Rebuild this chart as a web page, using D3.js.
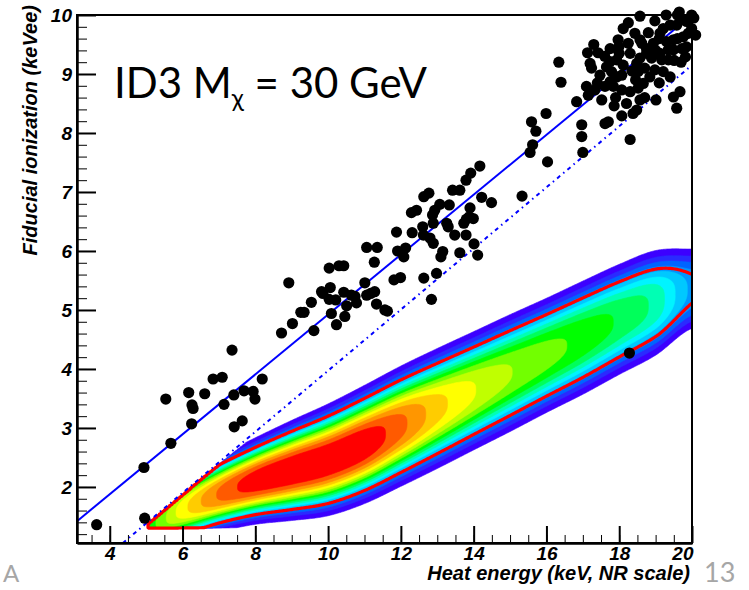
<!DOCTYPE html>
<html>
<head>
<meta charset="utf-8">
<script src="https://cdn.jsdelivr.net/npm/d3@7"></script>
<style>
  body { margin: 0; background: #fff; }
  svg { display: block; }
  .axis text { font-family: "Liberation Sans", Arial, sans-serif; font-weight: bold; font-style: italic; font-size: 19px; fill: #000; }
  .axis path, .axis line { stroke: #000; }
</style>
</head>
<body>
<script>
(function () {
  var svg, width, height, x, y, plot, values, contours, path, nx, ny, e0, q0, dE, dQ;

  width = 749;
  height = 590;

  // axis ranges and ticks
  var xRange = [3.1, 20];
  var yRange = [1.05, 10];
  var xMajor = [4, 6, 8, 10, 12, 14, 16, 18, 20];
  var yMajor = [2, 3, 4, 5, 6, 7, 8, 9, 10];

  // lines (endpoints)
  var solidE = [3.1, 20];
  var solidI = [1.42, 10.0];
  var dashE = [4.36, 20];
  var dashI = [1.05, 9.15];

  // signal band
  var bandE = [5, 6, 7, 8, 9, 10, 11, 12, 13, 14, 15, 16, 17, 18, 19, 20];
  var bandCenter = [1.33, 1.62, 1.88, 2.1, 2.28, 2.46, 2.72, 3.03, 3.33, 3.63, 3.93, 4.23, 4.53, 4.84, 5.12, 5.36];
  var bandPeak = [0.55, 0.74, 0.89, 0.975, 1.0, 1.0, 0.985, 0.9, 0.79, 0.71, 0.65, 0.61, 0.57, 0.52, 0.45, 0.28];
  var bandWidth = [0.35, 0.42, 0.46, 0.52, 0.6, 0.67, 0.71, 0.73, 0.74, 0.74, 0.74, 0.73, 0.73, 0.72, 0.7, 0.58];
  var heatCut = 5.05;
  var ionCut = 1.31;
  var levels = d3.range(1, 17).map(function (k) { return k / 17; });
  var redLevel = 0.26;

  // events
  var evE = [3.64, 4.96, 4.94, 5.68, 5.54, 6.25, 6.26, 6.29, 6.17, 6.61, 6.84, 7.09, 7.36, 7.14, 7.41, 7.69, 7.94, 7.99, 8.19, 7.42,
    7.64, 8.72, 8.92, 9.02, 9.25, 9.34, 9.54, 9.61, 9.82, 9.86, 10.06, 10.03, 10.21, 10.09, 10.23, 10.46, 10.03, 10.30, 10.43, 10.43,
    10.51, 10.64, 10.74, 10.78, 11.01, 11.06, 11.17, 11.28, 11.06, 11.35, 11.27, 11.33, 11.56, 11.63, 11.81, 11.99, 11.88, 11.91, 12.13, 12.08,
    12.31, 12.29, 12.43, 12.63, 12.77, 12.60, 12.62, 12.63, 12.84, 12.87, 12.93, 13.07, 12.89, 12.80, 12.89, 12.98, 13.10, 13.15, 13.33, 13.26,
    13.30, 13.42, 13.62, 13.48, 13.62, 13.73, 13.80, 13.88, 13.99, 13.90, 13.79, 13.79, 13.92, 14.17, 14.01, 14.11, 14.22, 14.49, 15.33, 16.03,
    15.59, 15.71, 15.62, 15.55, 16.97, 16.97, 17.00, 15.99, 16.34, 16.40, 18.28, 18.30, 19.01, 19.49, 19.67, 19.58, 19.82, 19.51, 16.83, 17.70,
    17.61, 18.07, 18.38, 18.48, 18.57, 17.86, 17.52, 18.57, 18.98, 19.29, 19.60, 19.99, 19.85, 20.1, 18.25, 18.11, 18.43, 18.57, 17.13, 17.42,
    17.20, 17.24, 17.10, 17.15, 17.33, 17.75, 17.97, 17.99, 18.25, 18.62, 18.75, 18.94, 19.12, 19.21, 19.40, 19.58, 19.76, 19.49, 19.35, 19.12,
    18.89, 18.75, 18.57, 18.48, 18.11, 17.93, 17.75, 17.65, 17.79, 17.93, 17.75, 17.61, 17.84, 18.07, 18.30, 18.52, 18.66, 18.84, 18.98, 19.21,
    19.40, 19.17, 19.35, 19.49, 19.72, 19.85, 19.76, 19.90, 19.99, 18.52, 18.07, 17.47,
    17.30, 17.60, 18.00, 18.30, 18.35, 18.70, 19.00, 19.10, 18.80, 19.30, 19.60, 19.70, 17.40, 17.90, 18.20, 18.70, 19.10, 18.45, 19.65, 20.05];
  var evI = [1.36, 1.47, 2.33, 2.74, 3.49, 3.07, 3.39, 3.33, 3.60, 3.58, 3.83, 3.86, 4.32, 3.40, 3.56, 3.63, 3.62, 3.49, 3.83, 3.02,
    3.12, 4.61, 5.46, 4.77, 4.96, 4.96, 5.13, 4.65, 5.31, 5.28, 5.38, 5.18, 5.17, 4.94, 4.75, 4.89, 5.71, 5.75, 5.75, 5.30,
    5.07, 5.25, 5.23, 5.12, 5.46, 5.25, 5.28, 5.31, 6.06, 6.06, 5.81, 5.10, 5.00, 4.98, 5.51, 5.55, 6.32, 6.00, 6.05, 5.90,
    6.31, 6.65, 6.69, 6.92, 6.98, 6.41, 6.27, 5.54, 5.18, 6.61, 6.69, 6.79, 6.47, 6.22, 6.13, 5.62, 5.90, 5.99, 6.78, 6.47,
    6.41, 7.03, 7.03, 6.27, 5.97, 6.47, 6.54, 6.58, 6.55, 6.73, 6.27, 7.20, 7.32, 7.44, 6.12, 5.93, 6.91, 6.82, 6.93, 7.51,
    8.19, 8.03, 7.80, 7.67, 8.14, 7.94, 7.67, 8.33, 9.20, 8.86, 4.27, 7.89, 8.56, 8.61, 8.70, 8.42, 9.29, 9.23, 8.53, 8.19,
    8.16, 8.29, 8.33, 8.39, 8.56, 8.46, 8.56, 9.98, 9.90, 10.0, 10.0, 10.0, 9.89, 9.66, 9.87, 9.77, 9.69, 9.58, 9.36, 9.36,
    9.18, 9.10, 8.79, 8.64, 8.73, 9.43, 9.58, 9.46, 9.52, 9.52, 9.43, 9.52, 9.69, 9.77, 9.83, 9.83, 9.92, 9.58, 9.41, 9.35,
    9.27, 9.35, 9.27, 9.18, 9.15, 9.24, 9.21, 9.12, 9.04, 8.95, 8.87, 8.79, 8.79, 8.73, 8.70, 8.76, 8.84, 8.95, 9.07, 9.04,
    8.95, 9.24, 9.24, 9.41, 9.43, 9.46, 9.63, 9.69, 9.77, 9.04, 8.98, 8.98,
    9.50, 9.30, 9.35, 9.35, 9.05, 9.10, 9.40, 9.60, 9.70, 9.55, 9.60, 9.20, 8.85, 8.60, 8.50, 8.60, 8.85, 8.90, 10.05, 9.95];

  var palette = ['#3c00ff', '#2a2aff', '#0064ff', '#0096ff', '#00c8ff', '#00f4ff', '#00ffb4', '#00ff5a',
    '#00ff00', '#72ff00', '#c0ff00', '#ffff00', '#ffcc00', '#ff9600', '#ff5a00', '#ff0000'];

  x = d3.scaleLinear().domain(xRange).range([77, 692]);
  y = d3.scaleLinear().domain(yRange).range([543, 15]);

  svg = d3.select('body')
    .append('svg')
    .attr('width', width)
    .attr('height', height);

  svg.append('clipPath')
    .attr('id', 'frame')
    .append('rect')
    .attr('x', x(xRange[0]))
    .attr('y', y(yRange[1]))
    .attr('width', x(xRange[1]) - x(xRange[0]))
    .attr('height', y(yRange[0]) - y(yRange[1]));

  // smooth (Catmull-Rom) reading of the band arrays at energy e
  function smooth(arr, e) {
    var t = Math.max(0, Math.min(bandE.length - 1.0001, e - bandE[0]));
    var k = Math.floor(t), f = t - k;
    var p0 = arr[Math.max(k - 1, 0)], p1 = arr[k], p2 = arr[k + 1], p3 = arr[Math.min(k + 2, arr.length - 1)];
    return 0.5 * ((2 * p1) + (-p0 + p2) * f + (2 * p0 - 5 * p1 + 4 * p2 - p3) * f * f + (-p0 + 3 * p1 - 3 * p2 + p3) * f * f * f);
  }

  var dashLine = d3.scaleLinear().domain(dashE).range(dashI);

  function density(e, q) {
    if (e < heatCut || q < ionCut || q > dashLine(e) - 0.04) {
      return 0;
    }
    var d = Math.abs(q - smooth(bandCenter, e)) / smooth(bandWidth, e);
    return smooth(bandPeak, e) * Math.exp(-d * d * d);
  }

  e0 = 5.0; dE = 0.035;
  q0 = 1.25; dQ = 0.012;
  nx = Math.round((20 - e0) / dE) + 1;
  ny = Math.round((6.4 - q0) / dQ) + 1;
  values = new Array(nx * ny);
  for (var j = 0; j < ny; j++) {
    for (var i = 0; i < nx; i++) {
      values[j * nx + i] = density(e0 + i * dE, q0 + j * dQ);
    }
  }

  path = d3.geoPath(d3.geoTransform({
    point: function (u, v) {
      this.stream.point(x(e0 + (u - 0.5) * dE), y(q0 + (v - 0.5) * dQ));
    }
  }));

  plot = svg.append('g').attr('clip-path', 'url(#frame)');

  contours = d3.contours().size([nx, ny]).thresholds(levels)(values);
  plot.append('g')
    .selectAll('path')
    .data(contours)
    .enter()
    .append('path')
    .attr('d', path)
    .attr('fill', function (d, k) { return palette[k]; })
    .attr('stroke', function (d, k) { return palette[k]; })
    .attr('stroke-width', 0.6);

  plot.append('g')
    .selectAll('path')
    .data(d3.contours().size([nx, ny]).thresholds([redLevel])(values))
    .enter()
    .append('path')
    .attr('d', path)
    .attr('fill', 'none')
    .attr('stroke', '#ff0000')
    .attr('stroke-width', 3.2)
    .attr('stroke-linejoin', 'round');

  // reference lines
  var line = d3.line()
    .x(function (d) { return x(d[0]); })
    .y(function (d) { return y(d[1]); });

  plot.append('path')
    .attr('d', line(d3.zip(solidE, solidI)))
    .attr('fill', 'none')
    .attr('stroke', '#0000ff')
    .attr('stroke-width', 2);

  plot.append('path')
    .attr('d', line(d3.zip(dashE, dashI)))
    .attr('fill', 'none')
    .attr('stroke', '#0000ff')
    .attr('stroke-width', 2)
    .attr('stroke-dasharray', '4,4,1.5,4');

  // events
  svg.append('g')
    .selectAll('circle')
    .data(d3.zip(evE, evI))
    .enter()
    .append('circle')
    .attr('cx', function (d) { return x(d[0]); })
    .attr('cy', function (d) { return y(d[1]); })
    .attr('r', 5.6)
    .attr('fill', '#000');

  // frame
  svg.append('rect')
    .attr('x', x(xRange[0]))
    .attr('y', y(yRange[1]))
    .attr('width', x(xRange[1]) - x(xRange[0]))
    .attr('height', y(yRange[0]) - y(yRange[1]))
    .attr('fill', 'none')
    .attr('stroke', '#000')
    .attr('stroke-width', 2);

  // axes
  var xMinor = d3.range(3.5, 20.01, 0.5);
  var yMinor = d3.range(1.2, 10.01, 0.2);

  svg.append('g')
    .attr('class', 'axis')
    .attr('transform', 'translate(0,' + y(yRange[0]) + ')')
    .call(d3.axisBottom(x).tickValues(xMinor).tickSize(-8).tickFormat(''))
    .call(function (g) { g.select('.domain').remove(); });

  var xa = svg.append('g')
    .attr('class', 'axis')
    .attr('transform', 'translate(0,' + y(yRange[0]) + ')')
    .call(d3.axisBottom(x).tickValues(xMajor).tickSizeInner(-17).tickSizeOuter(0).tickPadding(3).tickFormat(d3.format('d')));
  xa.select('.domain').attr('stroke-width', 2.5);
  xa.selectAll('line').attr('stroke-width', 2);
  xa.selectAll('text').filter(function (d) { return d === 20; })
    .attr('text-anchor', 'end')
    .attr('x', 1);

  svg.append('g')
    .attr('class', 'axis')
    .attr('transform', 'translate(' + x(xRange[0]) + ',0)')
    .call(d3.axisLeft(y).tickValues(yMinor).tickSize(-10).tickFormat(''))
    .call(function (g) { g.select('.domain').remove(); });

  var ya = svg.append('g')
    .attr('class', 'axis')
    .attr('transform', 'translate(' + x(xRange[0]) + ',0)')
    .call(d3.axisLeft(y).tickValues(yMajor).tickSizeInner(-19).tickSizeOuter(0).tickPadding(5).tickFormat(d3.format('d')));
  ya.select('.domain').attr('stroke-width', 2.5);
  ya.selectAll('line').attr('stroke-width', 2);

  // axis titles
  svg.append('text')
    .attr('x', 690)
    .attr('y', 580)
    .attr('text-anchor', 'end')
    .style('font-family', '"Liberation Sans", Arial, sans-serif')
    .style('font-weight', 'bold')
    .style('font-style', 'italic')
    .style('font-size', '20px')
    .text('Heat energy (keV, NR scale)');

  svg.append('text')
    .attr('transform', 'translate(37,5) rotate(-90)')
    .attr('text-anchor', 'end')
    .style('font-family', '"Liberation Sans", Arial, sans-serif')
    .style('font-weight', 'bold')
    .style('font-style', 'italic')
    .style('font-size', '20px')
    .text('Fiducial ionization (keVee)');

  // title
  var title = svg.append('text')
    .attr('x', 114)
    .attr('y', 98)
    .style('font-family', 'Lato, "Open Sans", sans-serif')
    .style('font-size', '42px')
    .attr('fill', '#000');
  title.append('tspan').text('ID3 M');
  title.append('tspan').attr('dy', 9).style('font-size', '25px').text('χ');
  title.append('tspan').attr('dy', -9).text(' = 30 GeV');

  // slide marks
  svg.append('text')
    .attr('x', 3)
    .attr('y', 582)
    .style('font-family', 'Lato, "Open Sans", sans-serif')
    .style('font-size', '24px')
    .attr('fill', '#a6a6a6')
    .text('A');

  svg.append('text')
    .attr('x', 704)
    .attr('y', 582)
    .style('font-family', 'Lato, "Open Sans", sans-serif')
    .style('font-size', '27px')
    .attr('fill', '#a6a6a6')
    .text('13');
}());
</script>
</body>
</html>
